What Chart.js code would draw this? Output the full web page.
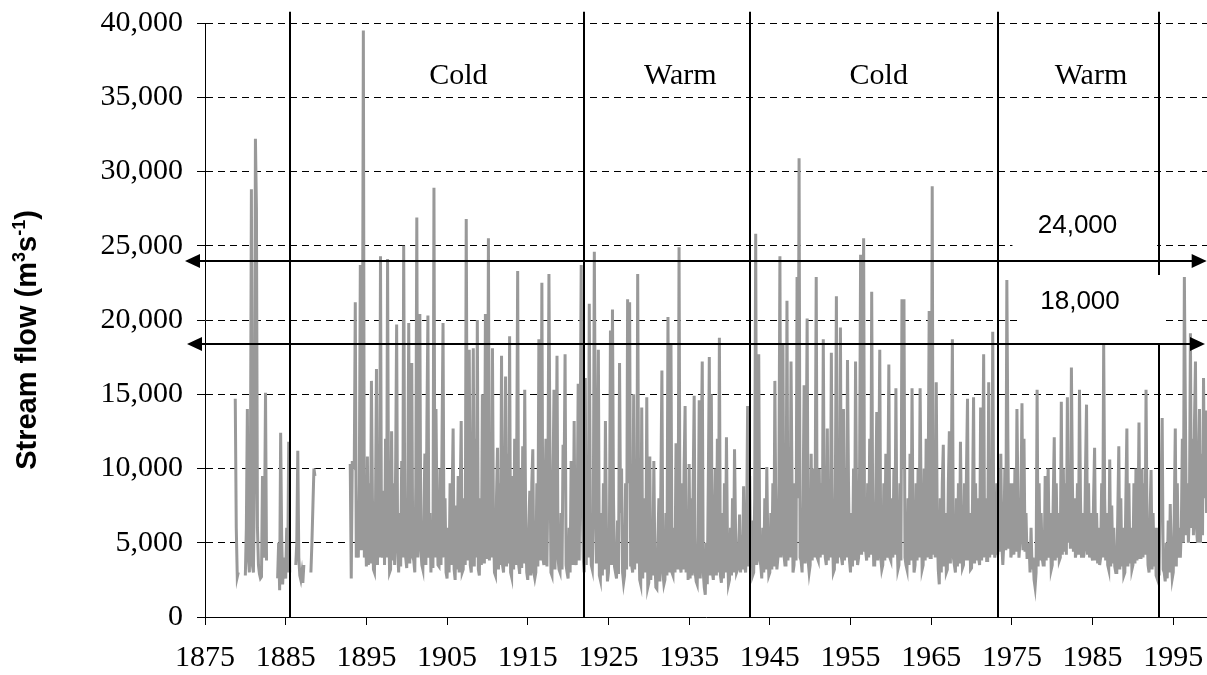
<!DOCTYPE html>
<html><head><meta charset="utf-8">
<script src="https://cdn.jsdelivr.net/npm/chart.js@4/dist/chart.umd.min.js"></script>
<style>html,body{margin:0;padding:0;background:#fff;}#wrap{width:1207px;height:675px;}</style>
</head><body><div id="wrap"><canvas id="c" width="1207" height="675"></canvas></div>
<script>
// ---------- DATA (stream flow in thousands of m3/s, 8 readings per year) ----------
const _ = null;
const xTickYears = [1875,1885,1895,1905,1915,1925,1935,1945,1955,1965,1975,1985,1995];
const yTickValues = [0,5000,10000,15000,20000,25000,30000,35000,40000];
const readingsPerYear = 8;
const flowUnit = 1000;

const flow1870sStart = 1878;
const flow1870s = [
  _,_,_,_,_,_,14.7,6.0,
  2.7,3.0,_,_,_,_,_,_
];
const flow1880sStart = 1880;
const flow1880s = [
  2.8,6.0,14.0,4.0,3.0,9.0,28.8,3.5,
  3.0,9.0,32.2,27.5,6.0,3.5,2.9,2.6,
  2.7,9.5,4.0,6.0,15.1,3.8,_,_,
  _,_,_,_,_,_,_,_,
  2.6,5.0,1.8,12.4,5.5,2.2,4.0,3.0,
  2.6,6.0,3.0,11.8,3.0,_,_,_,
  _,_,3.5,5.0,11.2,4.0,2.8,2.5,
  3.0,2.3,3.5,_,_,_,_,_,
  _,3.0,5.0,7.5,10.0,9.5,_,_,
  _,_,_,_,_,_,_,_
];
const flow1890sStart = 1890;
const flow1890s = [
  _,_,_,_,_,_,_,_,
  _,_,_,_,_,_,_,_,
  _,_,_,_,_,_,_,_,
  10.3,2.6,10.4,10.4,10.2,21.2,4.0,6.0,
  4.0,9.0,23.7,4.5,12.0,39.5,4.0,7.0,
  3.4,10.8,3.5,9.0,3.6,15.9,8.0,3.2,
  3.0,7.0,16.7,3.5,11.0,4.0,24.3,4.5,
  4.0,8.5,3.5,12.0,4.0,24.1,7.0,3.0,
  3.2,12.5,3.8,9.0,3.5,10.0,19.7,4.5,
  3.0,7.0,3.4,10.5,4.0,25.0,8.0,4.0
];
const flow1900sStart = 1900;
const flow1900s = [
  3.3,8.0,19.8,3.6,10.0,17.1,4.0,3.8,
  3.0,9.0,26.9,4.0,11.0,20.4,4.5,3.5,
  3.2,7.0,11.0,3.5,13.0,20.3,4.0,7.0,
  3.0,6.5,3.3,28.9,4.0,14.0,7.0,3.5,
  3.4,10.0,3.5,12.0,19.8,4.0,8.0,3.0,
  2.6,6.0,3.0,9.0,3.5,8.0,12.7,3.2,
  2.5,7.5,3.2,9.5,3.0,8.0,13.2,3.0,
  3.2,8.0,3.5,26.8,9.0,3.8,18.0,3.5,
  3.0,9.0,18.1,3.4,12.0,4.0,20.0,3.2,
  2.8,8.0,3.5,15.0,8.0,3.6,20.4,4.0
];
const flow1910sStart = 1910;
const flow1910s = [
  4.0,25.5,3.8,12.0,4.0,18.1,6.0,3.0,
  2.8,8.0,11.4,3.2,9.0,3.5,17.6,3.5,
  3.0,8.0,16.2,3.4,11.0,3.6,18.9,3.0,
  2.7,9.5,3.2,12.0,3.5,10.0,23.3,3.5,
  2.9,10.0,3.3,11.5,3.6,15.3,6.0,3.0,
  2.5,6.0,8.5,2.8,9.0,11.3,3.0,2.6,
  3.0,9.0,3.4,18.7,10.0,3.8,22.5,4.0,
  3.5,8.0,12.0,3.4,9.0,23.1,11.0,3.0,
  2.8,9.0,15.3,3.2,8.0,17.6,4.0,3.2,
  3.0,7.0,3.2,11.6,9.0,17.7,3.5,3.0
];
const flow1920sStart = 1920;
const flow1920s = [
  2.6,6.0,3.0,10.5,9.0,3.5,13.2,4.0,
  3.5,7.0,15.7,3.8,12.0,23.7,8.0,4.0,
  3.0,16.1,3.5,10.0,4.0,21.1,7.0,3.5,
  3.2,7.0,24.6,12.0,3.6,9.0,18.0,2.8,
  2.5,7.0,2.8,9.0,3.2,13.2,6.0,2.4,
  3.0,6.0,19.3,3.5,20.7,8.0,3.4,3.0,
  2.6,6.5,2.9,17.1,7.0,10.0,3.0,2.3,
  2.8,9.0,3.2,21.4,9.0,21.2,3.5,3.5,
  3.0,15.0,3.2,10.0,3.6,23.1,6.0,2.5,
  2.2,14.1,2.6,8.0,7.0,3.0,14.8,2.0
];
const flow1930sStart = 1930;
const flow1930s = [
  2.3,10.8,2.5,6.0,2.8,10.5,4.0,2.0,
  1.9,5.0,8.0,2.4,9.0,16.6,3.0,2.2,
  2.5,7.0,2.8,20.2,9.0,3.0,18.4,3.0,
  2.8,6.0,3.0,11.7,10.0,3.2,24.9,3.5,
  3.0,9.0,3.2,10.0,14.2,3.0,7.0,2.5,
  10.3,2.6,8.0,2.8,9.0,14.9,3.0,2.4,
  2.2,5.5,14.6,2.6,11.0,17.2,3.0,2.0,
  1.5,5.0,2.2,9.0,17.5,2.8,15.0,3.0,
  2.5,6.0,10.0,2.8,12.0,3.0,18.8,2.8,
  2.3,7.0,2.6,9.0,3.0,12.1,5.0,2.2
];
const flow1940sStart = 1940;
const flow1940s = [
  2.5,6.0,2.8,8.0,3.0,11.3,6.0,3.0,
  3.2,4.0,6.9,3.0,5.5,3.2,8.8,3.5,
  3.0,6.0,14.2,3.4,9.5,3.6,6.5,2.8,
  3.0,8.0,25.8,3.5,9.0,17.7,3.8,3.5,
  2.6,6.0,3.0,8.0,3.2,10.1,5.0,2.8,
  3.0,7.0,3.2,9.0,3.4,15.9,6.0,3.2,
  4.0,9.0,24.3,4.0,10.0,18.4,4.2,3.5,
  3.5,21.3,3.8,10.0,4.0,17.2,9.0,3.0,
  3.5,9.0,3.8,22.9,8.0,30.9,4.0,3.8,
  3.0,8.0,15.6,3.6,10.0,20.1,3.8,3.0
];
const flow1950sStart = 1950;
const flow1950s = [
  3.5,11.0,3.8,10.0,4.0,9.0,22.9,4.0,
  3.8,10.0,4.0,9.0,4.2,18.7,7.0,4.0,
  3.5,12.7,3.8,9.0,4.0,17.8,6.0,3.0,
  3.2,9.0,21.6,3.6,10.0,4.0,19.5,4.0,
  3.5,14.0,3.8,10.0,4.0,17.3,9.0,3.8,
  3.0,7.0,3.4,10.0,3.8,17.2,8.0,3.5,
  4.0,10.0,24.4,4.2,15.0,25.5,4.5,4.5,
  3.8,9.0,4.0,12.0,4.2,21.9,7.0,3.5,
  3.5,8.0,13.8,3.8,9.0,18.0,4.0,3.2,
  3.5,9.0,3.8,11.0,4.0,8.0,17.0,4.0
];
const flow1960sStart = 1960;
const flow1960s = [
  3.8,8.0,4.0,10.0,4.2,15.4,6.0,3.2,
  3.5,9.0,3.8,21.4,10.0,21.4,4.0,3.5,
  3.2,8.0,3.5,11.0,3.8,15.4,6.0,3.0,
  3.5,9.0,3.8,10.0,4.0,15.4,8.0,3.2,
  3.5,10.0,3.8,12.0,4.0,9.0,20.6,4.0,
  4.0,29.0,4.2,11.6,4.0,15.8,6.0,3.2,
  2.2,8.0,3.0,9.0,11.6,3.4,7.0,3.0,
  3.2,9.0,12.5,3.6,10.0,18.7,4.0,3.5,
  3.0,8.0,3.4,9.0,3.6,11.8,6.0,3.3,
  3.5,9.0,3.8,10.0,14.7,3.8,7.0,3.2
];
const flow1970sStart = 1970;
const flow1970s = [
  3.3,8.0,14.8,3.6,9.0,3.8,8.0,4.0,
  3.5,14.1,3.8,9.0,17.7,4.0,8.0,3.8,
  3.8,15.8,4.0,10.0,4.2,19.2,7.0,4.0,
  4.5,9.0,4.2,10.0,4.4,11.0,5.0,3.5,
  5.0,10.0,4.5,22.7,12.0,4.6,9.0,4.0,
  4.5,9.0,4.2,10.0,4.4,14.0,8.0,4.0,
  5.0,8.0,14.4,4.5,12.0,4.4,7.0,4.0,
  4.0,5.0,3.0,6.0,3.2,4.0,2.5,2.0,
  3.0,15.3,3.4,9.0,3.8,7.0,4.0,3.5,
  3.5,9.5,3.8,8.0,10.0,4.0,7.0,3.2
];
const flow1980sStart = 1980;
const flow1980s = [
  3.5,8.0,12.1,3.8,9.0,4.0,7.0,3.8,
  4.0,14.5,4.2,10.0,4.4,9.0,4.2,14.8,
  5.0,10.0,4.6,16.8,9.0,4.4,8.0,4.0,
  4.5,9.0,4.2,15.3,8.0,4.0,7.0,4.0,
  4.5,10.0,14.3,4.2,9.0,4.0,7.0,4.2,
  3.8,8.0,11.4,3.8,7.0,3.6,6.0,3.5,
  4.0,9.0,4.0,18.4,8.0,3.8,7.0,3.5,
  3.2,10.6,3.4,7.5,3.6,6.0,3.4,3.0,
  3.0,7.0,11.5,3.2,8.0,3.4,6.0,2.8,
  3.0,8.0,12.7,3.4,9.0,3.6,6.0,3.2
];
const flow1990sStart = 1990;
const flow1990s = [
  3.5,9.0,3.6,10.0,3.8,6.0,13.1,4.0,
  4.0,10.0,4.0,9.0,4.2,15.3,6.0,3.5,
  3.0,7.0,9.9,3.2,7.0,3.4,6.0,2.8,
  2.6,6.0,2.8,8.0,9.0,13.4,3.2,3.0,
  2.4,5.0,2.6,6.5,3.0,7.6,4.0,2.6,
  3.0,7.0,12.7,3.4,9.0,4.0,6.0,4.0,
  6.0,12.0,5.0,22.9,14.0,5.5,9.0,5.0,
  7.0,19.1,6.0,12.0,5.5,13.0,17.2,6.0,
  5.0,10.0,14.0,5.0,11.0,5.5,16.1,8.0,
  13.9,7.0
];

// annotations (data units)
const phaseBoundaryYears = [1885.53, 1922.0, 1942.58, 1973.24, 1993.19];
const phaseBoundaryTop = 40750;
const phaseNames = ['Cold','Warm','Cold','Warm'];
const phaseNameYears = [1906.4, 1933.9, 1958.5, 1984.8];
const phaseNameValue = 35900;
const thresholdValues = [24000, 18400];
const thresholdNames = ['24,000','18,000'];
const thresholdArrowYears = [[1872.52, 1999.14],[1872.77, 1998.93]];
const thresholdBoxes = [ // [yearFrom, yearTo, valueFrom, valueTo]
  [1975.07, 1992.99, 24300, 28500],
  [1975.88, 1993.56, 18430, 23030]
];
const thresholdNameYears = [1983.13, 1983.44];
const thresholdNameValues = [26330, 21210];

// ---------- build series ----------
const decades = [
  [flow1870sStart, flow1870s],[flow1880sStart, flow1880s],[flow1890sStart, flow1890s],
  [flow1900sStart, flow1900s],[flow1910sStart, flow1910s],[flow1920sStart, flow1920s],
  [flow1930sStart, flow1930s],[flow1940sStart, flow1940s],[flow1950sStart, flow1950s],
  [flow1960sStart, flow1960s],[flow1970sStart, flow1970s],[flow1980sStart, flow1980s],
  [flow1990sStart, flow1990s]
];
const points = [];
decades.forEach(([start, vals]) => {
  vals.forEach((v, i) => {
    points.push({x: start + i / readingsPerYear, y: v == null ? null : v * flowUnit});
  });
});

const SERIF = '"Liberation Serif", "Times New Roman", serif';
const SANS = '"Liberation Sans", Arial, sans-serif';

const overlay = {
  id: 'overlay',
  afterDraw(chart) {
    const ctx = chart.ctx, xs = chart.scales.x, ys = chart.scales.y;
    ctx.save();
    ctx.strokeStyle = '#000'; ctx.lineWidth = 2;
    phaseBoundaryYears.forEach(yr => {
      const px = Math.round(xs.getPixelForValue(yr));
      ctx.beginPath();
      ctx.moveTo(px, ys.getPixelForValue(phaseBoundaryTop));
      ctx.lineTo(px, ys.getPixelForValue(0));
      ctx.stroke();
    });
    ctx.fillStyle = '#fff';
    thresholdBoxes.forEach(b => {
      const x1 = xs.getPixelForValue(b[0]), x2 = xs.getPixelForValue(b[1]);
      const y1 = ys.getPixelForValue(b[3]), y2 = ys.getPixelForValue(b[2]);
      ctx.fillRect(x1, y1, x2 - x1, y2 - y1);
    });
    ctx.fillStyle = '#000'; ctx.strokeStyle = '#000'; ctx.lineWidth = 2;
    thresholdValues.forEach((v, i) => {
      const py = Math.round(ys.getPixelForValue(v));
      const xl = xs.getPixelForValue(thresholdArrowYears[i][0]);
      const xr = xs.getPixelForValue(thresholdArrowYears[i][1]);
      const hl = 15, hh = 7;
      ctx.beginPath(); ctx.moveTo(xl + hl - 2, py); ctx.lineTo(xr - hl + 2, py); ctx.stroke();
      ctx.beginPath(); ctx.moveTo(xl, py); ctx.lineTo(xl + hl, py - hh); ctx.lineTo(xl + hl, py + hh); ctx.closePath(); ctx.fill();
      ctx.beginPath(); ctx.moveTo(xr, py); ctx.lineTo(xr - hl, py - hh); ctx.lineTo(xr - hl, py + hh); ctx.closePath(); ctx.fill();
    });
    ctx.font = '26px ' + SANS; ctx.textAlign = 'center'; ctx.textBaseline = 'middle';
    thresholdNames.forEach((t, i) => {
      ctx.fillText(t, xs.getPixelForValue(thresholdNameYears[i]), ys.getPixelForValue(thresholdNameValues[i]));
    });
    ctx.font = '30px ' + SERIF; ctx.textBaseline = 'alphabetic';
    phaseNames.forEach((t, i) => {
      ctx.fillText(t, xs.getPixelForValue(phaseNameYears[i]), ys.getPixelForValue(phaseNameValue));
    });
    const parts = [['Stream flow (m', false], ['3', true], ['s', false], ['-1', true], [')', false]];
    const fBase = 'bold 29px ' + SANS, fSup = 'bold 18px ' + SANS;
    let total = 0;
    parts.forEach(p => { ctx.font = p[1] ? fSup : fBase; total += ctx.measureText(p[0]).width; });
    ctx.translate(36, (chart.chartArea.top + chart.chartArea.bottom) / 2 + 20);
    ctx.rotate(-Math.PI / 2);
    ctx.textAlign = 'left';
    let cx = -total / 2;
    parts.forEach(p => {
      ctx.font = p[1] ? fSup : fBase;
      ctx.fillText(p[0], cx, p[1] ? -11 : 0);
      cx += ctx.measureText(p[0]).width;
    });
    ctx.restore();
  }
};

new Chart(document.getElementById('c'), {
  type: 'line',
  data: { datasets: [{
    data: points, borderColor: '#999999', borderWidth: 3, pointRadius: 0,
    tension: 0, spanGaps: false, fill: false
  }]},
  options: {
    responsive: false, animation: false, devicePixelRatio: 1,
    layout: { padding: { top: 23, right: 0, left: 0, bottom: 0 } },
    plugins: { legend: { display: false }, tooltip: { enabled: false } },
    scales: {
      x: {
        type: 'linear', min: 1875, max: 1999.18,
        afterBuildTicks: s => { s.ticks = xTickYears.map(v => ({ value: v })); },
        afterFit: s => { s.height = 58; },
        grid: { display: true, drawOnChartArea: false, drawTicks: true, tickLength: 8, color: '#000', lineWidth: 1 },
        border: { display: true, color: '#000', width: 1 },
        ticks: { font: { family: SERIF, size: 30, lineHeight: 2.2 }, color: '#000', padding: 0, maxRotation: 0, autoSkip: false,
                 callback: v => String(v) }
      },
      y: {
        min: 0, max: 40000,
        afterBuildTicks: s => { s.ticks = yTickValues.map(v => ({ value: v })); },
        afterFit: s => { s.width = 205; },
        grid: { color: '#000', lineWidth: 1, tickLength: 8, drawTicks: true },
        border: { display: true, color: '#000', width: 1, dash: [7, 5] },
        ticks: { font: { family: SERIF, size: 30, lineHeight: 0.5 }, color: '#000', padding: 14,
                 callback: v => Number(v).toLocaleString('en-US') }
      }
    }
  },
  plugins: [overlay]
});
</script></body></html>
